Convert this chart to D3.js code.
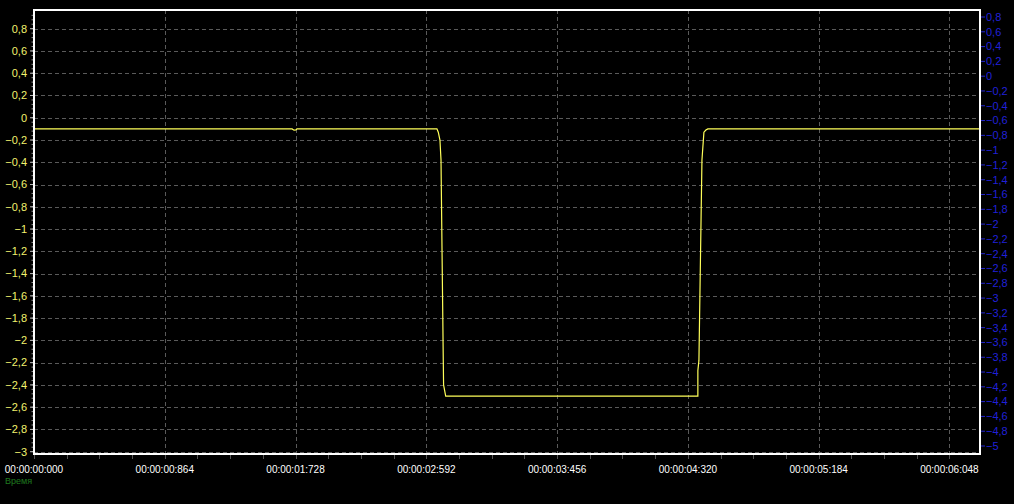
<!DOCTYPE html>
<html><head><meta charset="utf-8">
<script src="https://cdn.jsdelivr.net/npm/d3@7/dist/d3.min.js"></script>
<style>html,body{margin:0;padding:0;background:#000;overflow:hidden}</style>
</head><body>
<svg id="c" width="1014" height="504"></svg>
<script>
// ---- data ----
const timeMs = [0, 1705, 1718, 1731, 1737, 2662, 2671, 2682, 2689, 2704, 2706, 2720, 4386, 4386, 4393, 4413, 4426, 4439, 4452, 6250];
const values = [-0.1, -0.1, -0.112, -0.11, -0.1, -0.1, -0.13, -0.2, -0.38, -2.18, -2.4, -2.5, -2.5, -2.27, -2.18, -0.38, -0.13, -0.11, -0.1, -0.1];
const xTickMs = [0, 864, 1728, 2592, 3456, 4320, 5184, 6048];
const leftTicks = [0.8,0.6,0.4,0.2,0,-0.2,-0.4,-0.6,-0.8,-1,-1.2,-1.4,-1.6,-1.8,-2,-2.2,-2.4,-2.6,-2.8,-3];
const rightTicks = d3.range(0, 30).map(i => +(0.8 - i*0.2).toFixed(1));
const axisTitle = "Время";

// ---- layout ----
const L = 34, T = 10, R = 980, B = 454;
const svg = d3.select("#c");
svg.append("rect").attr("width",1014).attr("height",504).attr("fill","#000");

const x = d3.scaleLinear().domain([0, 6250]).range([L, R]);
const y = d3.scaleLinear().domain([-3, 0.8]).range([451.7, 28.7]);
const y2 = d3.scaleLinear().domain([-5, 0.8]).range([446, 17]);

const fmtNum = v => (Math.abs(v) < 1e-9 ? "0" : d3.format("")(+v.toFixed(1))).replace(".", ",");
const pad = (n, w) => String(n).padStart(w, "0");
const fmtTime = ms => { const s = Math.floor(ms/1000), m = Math.floor(s/60), h = Math.floor(m/60);
  return pad(h,2)+":"+pad(m%60,2)+":"+pad(s%60,2)+":"+pad(Math.round(ms%1000),3); };

// grid
const grid = svg.append("g").attr("stroke","#5a5a5a").attr("stroke-width",1).attr("stroke-dasharray","4,3").attr("shape-rendering","crispEdges");
leftTicks.forEach(v => grid.append("line").attr("x1",L).attr("x2",R).attr("y1",Math.round(y(v))+0.5).attr("y2",Math.round(y(v))+0.5));
xTickMs.slice(1).forEach(t => grid.append("line").attr("y1",T).attr("y2",B).attr("x1",Math.round(x(t))+0.5).attr("x2",Math.round(x(t))+0.5));

// signal
svg.append("clipPath").attr("id","pc").append("rect").attr("x",L+1).attr("y",T+1).attr("width",R-L-2).attr("height",B-T-2);
const line = d3.line().x((d,i)=>x(timeMs[i])).y(d=>y(d));
svg.append("path").datum(values).attr("clip-path","url(#pc)").attr("d",line)
  .attr("fill","none").attr("stroke","#ffff5a").attr("stroke-width",1.2);

// border
svg.append("rect").attr("x",L).attr("y",T).attr("width",R-L).attr("height",B-T)
  .attr("fill","none").attr("stroke","#fff").attr("stroke-width",2);

// left axis
const la = svg.append("g");
d3.range(-3, 0.96, 0.04).forEach(v => la.append("line").attr("x1",31.5).attr("x2",33).attr("y1",y(v)).attr("y2",y(v)).attr("stroke","#888"));
leftTicks.forEach(v => {
  la.append("line").attr("x1",30).attr("x2",33).attr("y1",y(v)).attr("y2",y(v)).attr("stroke","#bbb");
  la.append("text").attr("x",27).attr("y",y(v)).attr("dy","0.35em").attr("text-anchor","end")
    .attr("fill","#f2f26e").attr("font-family","Liberation Sans, Arial, sans-serif").attr("font-size",11).text(fmtNum(v));
});

// right axis
const ra = svg.append("g");
rightTicks.forEach(v => {
  ra.append("line").attr("x1",981).attr("x2",985).attr("y1",y2(v)).attr("y2",y2(v)).attr("stroke","#2424c8");
  ra.append("text").attr("x",986).attr("y",y2(v)).attr("dy","0.35em").attr("text-anchor","start")
    .attr("fill","#2020d8").attr("font-family","Liberation Sans, Arial, sans-serif").attr("font-size",11).text(fmtNum(v));
});

// bottom axis
const ba = svg.append("g");
d3.range(0, 6250, 216).forEach(t => ba.append("line").attr("x1",Math.round(x(t))+0.5).attr("x2",Math.round(x(t))+0.5).attr("y1",455).attr("y2",459).attr("stroke","#555"));
xTickMs.forEach(t => {
  ba.append("text").attr("x",x(t)).attr("y",469).attr("dy","0.35em").attr("text-anchor","middle")
    .attr("fill","#fff").attr("font-family","Liberation Sans, Arial, sans-serif").attr("font-size",10).text(fmtTime(t));
});
ba.append("text").attr("x",5).attr("y",481).attr("dy","0.35em").attr("fill","#1f7a1f")
  .attr("font-family","Liberation Sans, Arial, sans-serif").attr("font-size",9).text(axisTitle);
</script>
</body></html>
